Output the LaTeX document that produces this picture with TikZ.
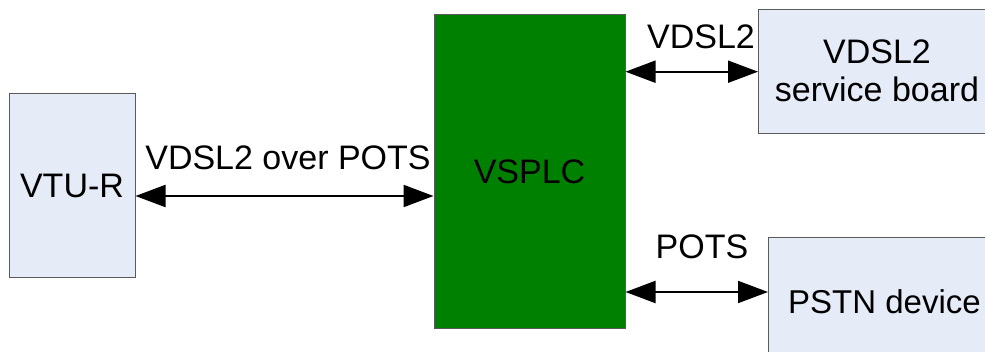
\documentclass[tikz,border=0pt]{standalone}
\usepackage{fontspec}
\setmainfont{Liberation Sans}
\usetikzlibrary{arrows.meta}
\definecolor{boxfill}{RGB}{230,236,247}
\definecolor{boxline}{RGB}{90,90,90}
\definecolor{splcgreen}{RGB}{0,128,0}
\begin{document}
\begin{tikzpicture}[x=1pt,y=-1pt,
    every node/.style={font=\fontsize{34}{38}\selectfont, inner sep=0pt},
    unit/.style={draw=boxline, line width=1pt, fill=boxfill},
    cutunit/.style={fill=boxfill},
    splitter/.style={draw=boxline, line width=1pt, fill=splcgreen},
    link/.style={line width=2pt, {Triangle[length=30pt,width=22pt]}-{Triangle[length=30pt,width=22pt]}}
]
\useasboundingbox (0,0) rectangle (985,352);
\clip (0,0) rectangle (985,352);
% devices
\node[unit, minimum width=126pt, minimum height=184pt] (vtur) at (72,186) {VTU-R};
\node[splitter, minimum width=191pt, minimum height=314pt] (vsplc) at (529.5,172) {VSPLC};
\node[cutunit, anchor=north west, minimum width=300pt, minimum height=123pt] (board) at (758,10) {};
\node[cutunit, anchor=north west, minimum width=300pt, minimum height=200pt] (pstn) at (768,238) {};
\draw[boxline, line width=1pt] (board.north east) -- (board.north west) -- (board.south west) -- (board.south east);
\draw[boxline, line width=1pt] (pstn.north east) -- (pstn.north west) -- (pstn.south west);
\node[align=center] (boardtext) at (877,71) {VDSL2\\service board};
\node[anchor=west, font=\fontsize{33}{38}\selectfont] (pstntext) at (788,302) {PSTN device};

% lines
\draw[link] (vtur.east |- 0,196) -- (vsplc.west |- 0,196);
\draw[link] (vsplc.east |- board.west) -- (board.west);
\draw[link] (vsplc.east |- 0,292) -- (pstn.west |- 0,292);
\node (lbloop) at (288,158) {VDSL2 over POTS};
\node (lbvdsl) at (701,37) {VDSL2};
\node (lbpots) at (702,247) {POTS};
\end{tikzpicture}
\end{document}
